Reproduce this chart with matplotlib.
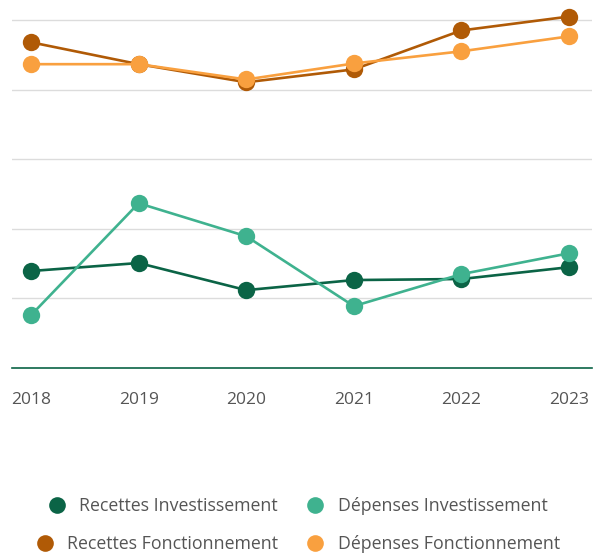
import matplotlib
matplotlib.use("Agg")
from matplotlib import pyplot as plt
from matplotlib.lines import Line2D

years = ["2018", "2019", "2020", "2021", "2022", "2023"]

# values (gridline step = 20)
recettes_invest = [27.9, 30.2, 22.4, 25.3, 25.6, 29.0]
depenses_invest = [15.2, 47.4, 37.9, 17.8, 27.0, 33.0]
recettes_fonct = [93.7, 87.4, 82.2, 85.9, 97.1, 101.1]
depenses_fonct = [87.4, 87.4, 83.0, 87.6, 91.1, 95.4]

labels = ["Recettes Investissement", "Dépenses Investissement",
          "Recettes Fonctionnement", "Dépenses Fonctionnement"]
colors = ["#0b6446", "#3fb28f", "#b05a06", "#f9a03f"]
series = [recettes_invest, depenses_invest, recettes_fonct, depenses_fonct]

plt.rcParams['font.family'] = ['Open Sans', 'DejaVu Sans']

fig = plt.figure(figsize=(5.94, 5.54), dpi=100)
ax = fig.add_axes([12 / 594, 1 - 368 / 554, 580 / 594, 365 / 554])

x = range(len(years))
for vals, col in zip(series, colors):
    ax.plot(x, vals, color=col, lw=1.9, marker="o", ms=12.5,
            markeredgewidth=0, clip_on=False)

ax.set_xlim(-0.177, 5.214)
ax.set_ylim(0, 105)
ax.set_yticks([20, 40, 60, 80, 100])
ax.yaxis.grid(True, color="#dcdcdc", lw=1)
ax.set_axisbelow(True)
ax.tick_params(axis="y", left=False, labelleft=False)
ax.set_xticks(list(x))
ax.set_xticklabels(years, fontsize=12.5, color="#555555")
ax.tick_params(axis="x", length=0, pad=17)
for s in ["top", "left", "right"]:
    ax.spines[s].set_visible(False)
ax.spines["bottom"].set_color("#0b6446")
ax.spines["bottom"].set_linewidth(1.2)

# legend, two centred rows
for row, ypos in [(0, 506), (1, 544)]:
    handles = []
    for i in (2 * row, 2 * row + 1):
        handles.append(Line2D([], [], ls="", marker="o", ms=12,
                              markeredgewidth=0, color=colors[i],
                              label=labels[i]))
    leg = fig.legend(handles=handles, ncol=2, loc="center",
                     bbox_to_anchor=(0.5, 1 - ypos / 554), frameon=False,
                     fontsize=12.8, handletextpad=0.65, columnspacing=1.5,
                     handlelength=1.2)
    for t in leg.get_texts():
        t.set_color("#555555")

fig.savefig("out.png", dpi=100)
